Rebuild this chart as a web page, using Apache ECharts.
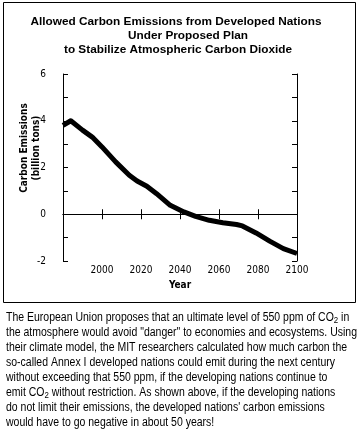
<!DOCTYPE html>
<html>
<head>
<meta charset="utf-8">
<script src="https://cdn.jsdelivr.net/npm/echarts@6/dist/echarts.min.js"></script>
<style>
html,body{margin:0;padding:0;background:#fff;}
#chart{width:359px;height:435px;}
</style>
</head>
<body>
<div id="chart"></div>
<script>
// ---- data ----
const years = [1980, 1984, 1990, 1995, 2000, 2007, 2014, 2018, 2023, 2028, 2035, 2042, 2048, 2055, 2062, 2069, 2072, 2079, 2086, 2093, 2100];
const emissions = [3.8, 4.0, 3.6, 3.3, 2.88, 2.24, 1.67, 1.42, 1.2, 0.88, 0.38, 0.1, -0.09, -0.26, -0.36, -0.44, -0.5, -0.8, -1.15, -1.47, -1.68];
const titleLines = ["Allowed Carbon Emissions from Developed Nations", "Under Proposed Plan", "to Stabilize Atmospheric Carbon Dioxide"];
const yAxisTitle = ["Carbon Emissions", "(billion tons)"];
const xAxisTitle = "Year";
const paragraph = [
  "The European Union proposes that an ultimate level of 550 ppm of CO{s|2} in",
  "the atmosphere would avoid \"danger\" to economies and ecosystems. Using",
  "their climate model, the MIT researchers calculated how much carbon the",
  "so-called Annex I developed nations could emit during the next century",
  "without exceeding that 550 ppm, if the developing nations continue to",
  "emit CO{s|2} without restriction. As shown above, if the developing nations",
  "do not limit their emissions, the developed nations' carbon emissions",
  "would have to go negative in about 50 years!"
];

const narrow = "'Liberation Sans Narrow','Arial Narrow','DejaVu Sans Condensed','Liberation Sans',Arial,sans-serif";
const sans = "'Liberation Sans',Arial,Helvetica,sans-serif";

const chart = echarts.init(document.getElementById('chart'), null, {renderer: 'canvas'});

const grid = {left: 63, top: 74, width: 234, height: 187};
const tickLen = 5;

// horizontal squeeze for paragraph so that its widest line spans ~351px
const paraFont = '12px ' + sans;
const mctx = document.createElement('canvas').getContext('2d');
mctx.font = paraFont;
const paraScale = Math.min(1, 351 / mctx.measureText(paragraph[1]).width);

const graphics = [];
graphics.push({type: 'rect', shape: {x: 3.5, y: 2.5, width: 352, height: 300}, style: {fill: null, stroke: '#000', lineWidth: 1}, silent: true});
const titleX = [176, 188, 178];
const titleY = [22, 36, 50];
titleLines.forEach((t, i) => {
  graphics.push({type: 'text', x: titleX[i], y: titleY[i], style: {text: t, font: 'bold 11.8px ' + sans, fill: '#000', textAlign: 'center', textVerticalAlign: 'middle'}});
});
graphics.push({type: 'text', x: 24, y: 148, rotation: Math.PI / 2, style: {text: yAxisTitle[0], font: 'bold 10px ' + narrow, fill: '#000', textAlign: 'center', textVerticalAlign: 'middle'}});
graphics.push({type: 'text', x: 36, y: 148, rotation: Math.PI / 2, style: {text: yAxisTitle[1], font: 'bold 10px ' + narrow, fill: '#000', textAlign: 'center', textVerticalAlign: 'middle'}});
graphics.push({type: 'text', x: 180, y: 285, style: {text: xAxisTitle, font: 'bold 10px ' + narrow, fill: '#000', textAlign: 'center', textVerticalAlign: 'middle'}});
paragraph.forEach((t, i) => {
  graphics.push({type: 'text', x: 6, y: 318 + i * 15, scaleX: paraScale, originX: 0, style: {
    text: t, font: paraFont, fill: '#000', textAlign: 'left', textVerticalAlign: 'middle',
    rich: {s: {fontSize: 9, fontFamily: sans, padding: [6, 0, 0, 0]}}
  }});
});

const axisCommon = {
  type: 'value',
  axisLine: {show: true, lineStyle: {color: '#000', width: 1}},
  axisTick: {show: true, inside: true, length: tickLen, lineStyle: {color: '#000', width: 1}},
  splitLine: {show: false}
};

const option = {
  animation: false,
  backgroundColor: '#fff',
  grid: grid,
  xAxis: [
    Object.assign({}, axisCommon, {
      min: 1980, max: 2100, interval: 20, position: 'bottom',
      axisLabel: {show: true, margin: 4, color: '#000', fontSize: 10, fontFamily: narrow,
        formatter: v => (v === 1980 ? '' : String(v))}
    }),
    Object.assign({}, axisCommon, {
      min: 1980, max: 2100, interval: 20, position: 'top',
      axisLabel: {show: false}
    })
  ],
  yAxis: [
    Object.assign({}, axisCommon, {
      min: -2, max: 6, interval: 1, position: 'left',
      axisLabel: {show: true, margin: 17, color: '#000', fontSize: 10, fontFamily: narrow,
        formatter: v => (v % 2 === 0 ? String(v) : '')}
    }),
    Object.assign({}, axisCommon, {
      min: -2, max: 6, interval: 1, position: 'right',
      axisLabel: {show: false}
    })
  ],
  series: [{
    type: 'line',
    data: years.map((y, i) => [y, emissions[i]]),
    showSymbol: false,
    symbol: 'none',
    lineStyle: {color: '#000', width: 5, join: 'round', cap: 'butt'},
    markLine: {
      silent: true, symbol: 'none', label: {show: false},
      lineStyle: {color: '#000', width: 1, type: 'solid'},
      data: [{yAxis: 0}]
    },
    z: 3
  }],
  graphic: graphics
};
chart.setOption(option);
</script>
</body>
</html>
